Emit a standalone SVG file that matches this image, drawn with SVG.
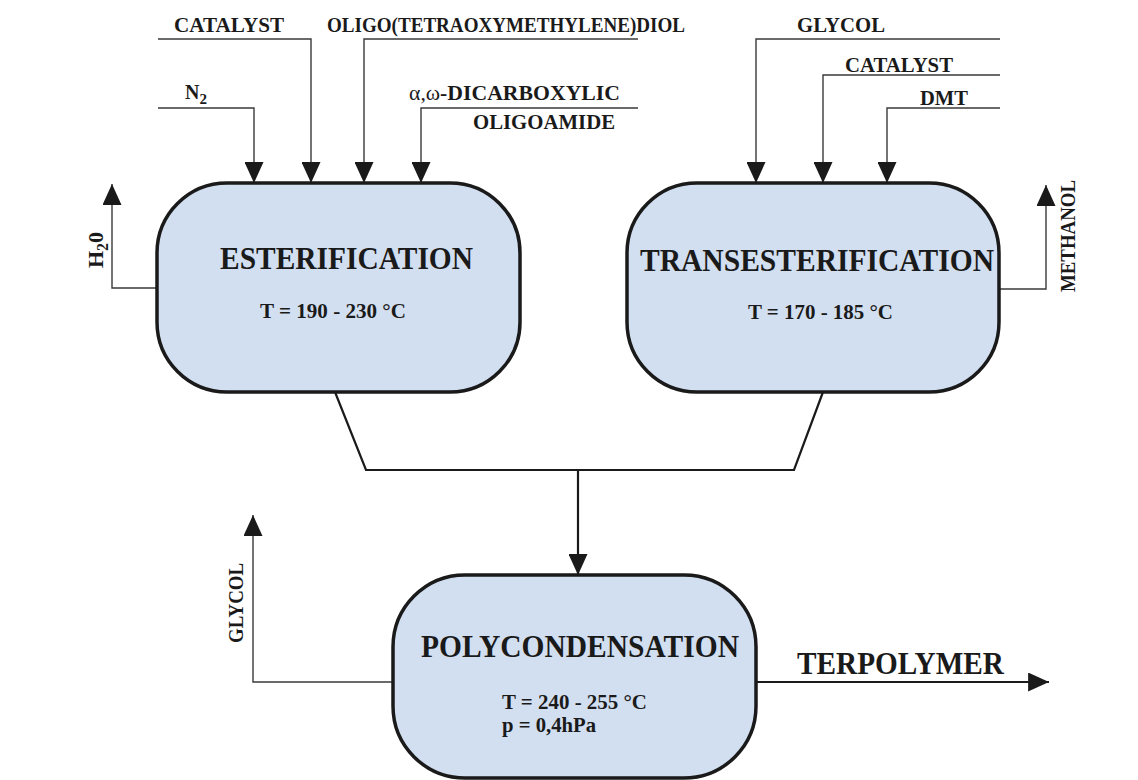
<svg xmlns="http://www.w3.org/2000/svg" width="1138" height="780" viewBox="0 0 1138 780">
<style>
.box{fill:#d2dff1;stroke:#1a1a1a;stroke-width:3.5}
.t{font-family:"Liberation Serif","Times New Roman",serif;font-weight:bold;fill:#1a1a1a}
.big{font-size:31px}
.mid{font-size:22px}
.lbl{font-size:21px}
.thin{fill:none;stroke:#3a3a3a;stroke-width:1.4}
.thick{fill:none;stroke:#1a1a1a;stroke-width:2.2}
</style>
<defs>
<marker id="arr" viewBox="0 0 22 20" refX="22" refY="10" markerWidth="22" markerHeight="19" markerUnits="userSpaceOnUse" orient="auto">
<path d="M0,0 L22,10 L0,20 z" fill="#1a1a1a"/>
</marker>
</defs>
<rect width="1138" height="780" fill="#ffffff"/>

<g id="connectors">
<path class="thin" d="M158,39 L311,39 L311,183" marker-end="url(#arr)"/>
<path class="thin" d="M638,39 L364,39 L364,183" marker-end="url(#arr)"/>
<path class="thin" d="M158,108 L254,108 L254,183" marker-end="url(#arr)"/>
<path class="thin" d="M638,108 L421,108 L421,183" marker-end="url(#arr)"/>
<path class="thin" d="M1000,39 L756,39 L756,183" marker-end="url(#arr)"/>
<path class="thin" d="M1000,75 L823,75 L823,183" marker-end="url(#arr)"/>
<path class="thin" d="M1000,108 L887,108 L887,183" marker-end="url(#arr)"/>
<path class="thin" d="M157,288 L112,288 L112,184" marker-end="url(#arr)"/>
<path class="thin" d="M999,289 L1046,289 L1046,185" marker-end="url(#arr)"/>
<path class="thin" d="M393,682 L253,682 L253,515" marker-end="url(#arr)"/>
<path class="thick" d="M335,392 L366,470 L794,470 L823,392"/>
<path class="thick" d="M578,470 L578,575" marker-end="url(#arr)"/>
<path class="thick" d="M756,682 L1049,682" stroke-width="2.6" marker-end="url(#arr)"/>
</g>

<g id="labels">
<text class="t lbl" x="174" y="32" textLength="110" lengthAdjust="spacingAndGlyphs">CATALYST</text>
<text class="t lbl" x="327" y="32" textLength="358" lengthAdjust="spacingAndGlyphs">OLIGO(TETRAOXYMETHYLENE)DIOL</text>
<text class="t" font-size="20" x="185" y="99">N<tspan font-size="15" dy="5">2</tspan></text>
<text class="t lbl" x="409" y="100" textLength="211" lengthAdjust="spacingAndGlyphs"><tspan font-weight="normal">α,ω</tspan>-DICARBOXYLIC</text>
<text class="t lbl" x="473" y="129" textLength="142" lengthAdjust="spacingAndGlyphs">OLIGOAMIDE</text>
<text class="t lbl" x="797" y="32" textLength="88" lengthAdjust="spacingAndGlyphs">GLYCOL</text>
<text class="t lbl" x="845" y="72" textLength="108" lengthAdjust="spacingAndGlyphs">CATALYST</text>
<text class="t lbl" x="920" y="105" textLength="48" lengthAdjust="spacingAndGlyphs">DMT</text>
<text class="t" font-size="22" transform="translate(103,268) rotate(-90)">H<tspan font-size="16" dy="5">2</tspan><tspan dy="-5">0</tspan></text>
<text class="t" font-size="22" transform="translate(1075,292) rotate(-90)" textLength="112" lengthAdjust="spacingAndGlyphs">METHANOL</text>
<text class="t" font-size="20" transform="translate(243,643) rotate(-90)" textLength="80" lengthAdjust="spacingAndGlyphs">GLYCOL</text>
<text class="t big" x="797" y="674" textLength="207" lengthAdjust="spacingAndGlyphs">TERPOLYMER</text>
</g>

<g id="esterification">
<rect class="box" x="157" y="183" width="363" height="209" rx="70" ry="70"/>
<text class="t big" x="220" y="269" textLength="253" lengthAdjust="spacingAndGlyphs">ESTERIFICATION</text>
<text class="t mid" x="260" y="318" textLength="146" lengthAdjust="spacingAndGlyphs">T = 190 - 230 °C</text>
</g>

<g id="transesterification">
<rect class="box" x="627" y="183" width="372" height="209" rx="70" ry="70"/>
<text class="t big" x="640" y="271" textLength="354" lengthAdjust="spacingAndGlyphs">TRANSESTERIFICATION</text>
<text class="t mid" x="748" y="319" textLength="145" lengthAdjust="spacingAndGlyphs">T = 170 - 185 °C</text>
</g>

<g id="polycondensation">
<rect class="box" x="393" y="575" width="363" height="203" rx="72" ry="72"/>
<text class="t big" x="421" y="657" textLength="318" lengthAdjust="spacingAndGlyphs">POLYCONDENSATION</text>
<text class="t lbl" x="502" y="709" textLength="145" lengthAdjust="spacingAndGlyphs">T = 240 - 255 °C</text>
<text class="t lbl" x="502" y="732" textLength="94" lengthAdjust="spacingAndGlyphs">p = 0,4hPa</text>
</g>
</svg>
